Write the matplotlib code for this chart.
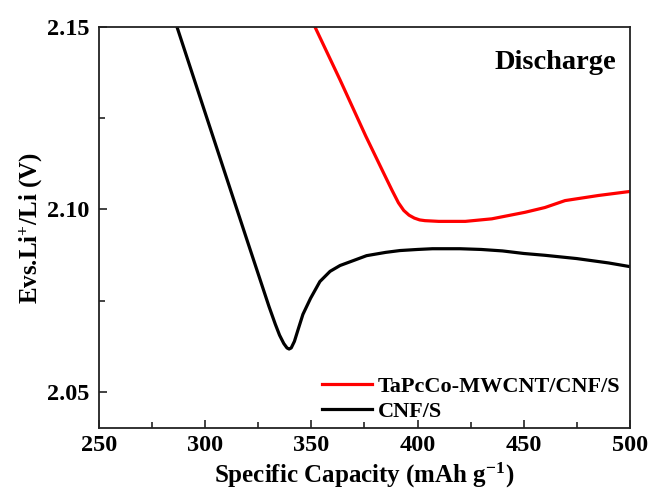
import matplotlib
matplotlib.use("Agg")
import matplotlib.pyplot as plt
from matplotlib.ticker import MultipleLocator

plt.rcParams['font.family'] = 'Liberation Serif'
plt.rcParams['font.weight'] = 'bold'
plt.rcParams['mathtext.fontset'] = 'custom'
plt.rcParams['mathtext.rm'] = 'Liberation Serif:bold'
plt.rcParams['mathtext.default'] = 'rm'

# Discharge curves
cnf_x = [286.7, 300, 310, 320, 330, 333, 335, 337, 338.5, 339.5, 340.5, 342,
         343.5, 346, 349.6, 354, 358.8, 363.5, 370, 376, 385, 391.7, 400, 407,
         420, 430, 440, 450, 460, 475, 490, 500]
cnf_y = [2.150, 2.1264, 2.1087, 2.0910, 2.0734, 2.0685, 2.0655, 2.0632, 2.0620,
         2.0617, 2.0620, 2.0638, 2.0666, 2.0712, 2.0756, 2.0802, 2.0830, 2.0846,
         2.0860, 2.0873, 2.0882, 2.0887, 2.0890, 2.0892, 2.0892, 2.0890, 2.0886,
         2.0879, 2.0874, 2.0865, 2.0853, 2.0843]

tapc_x = [351.7, 363.5, 375.6, 383.9, 388, 391, 393.5, 396, 398.5, 401, 403.5,
          410, 422.5, 435, 450.7, 460, 469.5, 485.2, 500]
tapc_y = [2.150, 2.1355, 2.1201, 2.1101, 2.1052, 2.1018, 2.0997, 2.0984, 2.0976,
          2.0971, 2.0969, 2.0967, 2.0967, 2.0974, 2.0992, 2.1005, 2.1024, 2.1038,
          2.1049]

fig = plt.figure(figsize=(6.52, 4.91), dpi=100)
ax = fig.add_axes([0.152, 0.128, 0.814, 0.817])

ax.plot(tapc_x, tapc_y, color='#ff0000', lw=2.3, label='TaPcCo-MWCNT/CNF/S')
ax.plot(cnf_x, cnf_y, color='black', lw=2.3, label='CNF/S')

ax.set_xlim(250, 500)
ax.set_ylim(2.04, 2.15)
ax.xaxis.set_major_locator(MultipleLocator(50))
ax.xaxis.set_minor_locator(MultipleLocator(25))
ax.yaxis.set_major_locator(MultipleLocator(0.05))
ax.yaxis.set_minor_locator(MultipleLocator(0.025))
ax.yaxis.set_major_formatter(matplotlib.ticker.FormatStrFormatter('%.2f'))
ax.tick_params(which='both', direction='in', width=1.2, labelsize=17.5, color='#222222')
ax.tick_params(axis='x', which='major', length=6, pad=5)
ax.tick_params(axis='y', which='major', length=6, pad=7)
ax.tick_params(which='minor', length=4)
for s in ax.spines.values():
    s.set_linewidth(1.3)
    s.set_color('#222222')

# x label placed by its baseline so it sits tight under the tick labels
fig.text(0.152 + 0.814 / 2, 0.018, 'Specific Capacity (mAh g$^{-1}$)', ha='center',
         va='baseline', fontsize=18, fontweight='bold')
ax.set_ylabel('Evs.Li$^{+}$/Li (V)', fontsize=18, fontweight='bold', labelpad=1)

ax.text(0.974, 0.911, 'Discharge', transform=ax.transAxes, ha='right', va='center',
        fontsize=20.5, fontweight='bold')

ax.legend(loc='lower left', bbox_to_anchor=(0.42, 0.015), frameon=False,
          handlelength=2.25, handletextpad=0.27, labelspacing=0.2, borderpad=0,
          borderaxespad=0, prop={'weight': 'bold', 'size': 16})

fig.savefig('out.png', dpi=100)
